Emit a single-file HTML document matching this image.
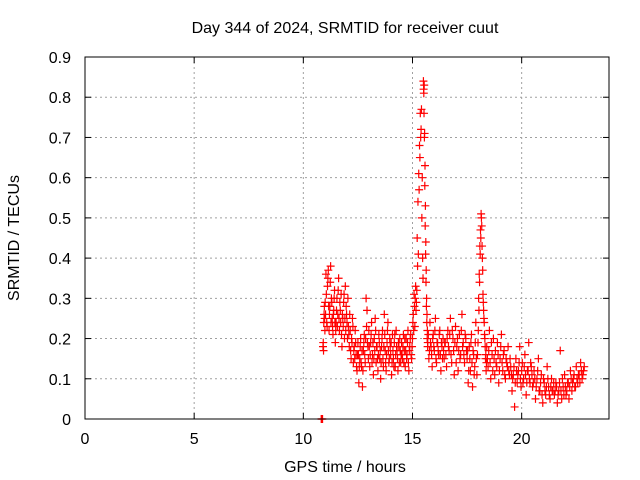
<!DOCTYPE html>
<html><head><meta charset="utf-8"><style>
body{margin:0;background:#fff;}
svg{display:block;font-family:"Liberation Sans",sans-serif;font-size:16px;}
</style></head><body>
<svg id="chart" width="640" height="480">
<text x="345" y="33" text-anchor="middle">Day 344 of 2024, SRMTID for receiver cuut</text>
<text x="345" y="472" text-anchor="middle">GPS time / hours</text>
<text transform="translate(19,238) rotate(-90)" text-anchor="middle">SRMTID / TECUs</text>
<g id="grid"></g>
<g id="ticks"></g>
<g id="marks"></g>
<rect x="85" y="57" width="524" height="362" fill="none" stroke="#000" stroke-width="1"/>
</svg>
<script>
const xTicks=[0,5,10,15,20];
const yTicks=[0,0.1,0.2,0.3,0.4,0.5,0.6,0.7,0.8,0.9];
const yTickLabels=["0","0.1","0.2","0.3","0.4","0.5","0.6","0.7","0.8","0.9"];
const zeroTimes=[10.82,10.85,10.88];
const zeroValues=[0,0,0];
const segStart=[10.9,11.0,11.5,12.0,12.5,13.0,13.5,14.0,14.5,15.0,15.5,15.7,16.5,17.5,18.0,18.4,19.5,20.5,21.5];
const segEnd=[11.0,11.5,12.0,12.5,13.0,13.5,14.0,14.5,15.0,15.5,15.7,16.5,17.5,18.0,18.4,19.5,20.5,21.5,22.9];
const segValues=[
[0.18,0.17,0.26,0.25],
[0.29,0.36,0.24,0.33,0.37,0.22,0.28,0.38,0.30,0.25,0.21,0.27,0.32,0.19],
[0.24,0.30,0.26,0.35,0.22,0.27,0.31,0.18,0.25,0.29,0.20,0.33,0.28],
[0.24,0.30,0.21,0.26,0.17,0.20,0.25,0.14,0.18,0.22,0.16,0.12],
[0.19,0.09,0.15,0.20,0.13,0.08,0.17,0.21,0.14,0.30,0.27,0.18],
[0.22,0.13,0.19,0.24,0.16,0.11,0.20,0.25,0.14,0.18,0.12,0.21],
[0.15,0.10,0.18,0.22,0.13,0.26,0.17,0.12,0.19,0.24,0.14,0.20],
[0.16,0.11,0.21,0.15,0.19,0.13,0.22,0.17,0.12,0.18,0.20,0.14],
[0.19,0.15,0.21,0.17,0.13,0.20,0.16,0.22,0.12,0.18,0.21,0.15],
[0.20,0.26,0.31,0.23,0.33,0.29,0.45,0.54,0.61,0.68,0.76,0.72,0.50,0.40],
[0.84,0.81,0.83,0.71,0.63,0.53,0.44,0.37,0.30,0.26,0.22],
[0.19,0.15,0.24,0.18,0.13,0.21,0.17,0.25,0.14,0.19,0.16,0.22,0.12,0.18,0.20,0.15],
[0.19,0.13,0.22,0.17,0.25,0.14,0.20,0.11,0.23,0.18,0.12,0.21,0.16,0.26,0.19,0.14,0.20],
[0.15,0.09,0.18,0.12,0.21,0.08,0.16,0.13,0.24,0.11],
[0.19,0.30,0.36,0.43,0.47,0.51,0.48,0.40,0.31,0.27,0.24,0.20,0.15,0.12],
[0.18,0.13,0.22,0.10,0.16,0.20,0.11,0.14,0.19,0.09,0.15,0.21,0.12,0.17,0.10,0.14,0.18,0.11],
[0.13,0.07,0.11,0.03,0.15,0.09,0.12,0.18,0.08,0.14,0.10,0.16,0.06,0.12,0.19,0.09,0.13],
[0.08,0.12,0.05,0.10,0.15,0.07,0.11,0.04,0.09,0.06,0.13,0.08,0.05,0.10,0.07],
[0.06,0.09,0.04,0.07,0.17,0.05,0.08,0.11,0.06,0.09,0.05,0.12,0.07,0.10,0.08,0.13,0.09,0.11,0.14,0.10,0.12]
];
const segValuesB=[
[0.19,0.24,0.28,0.22],
[0.26,0.31,0.23,0.35,0.28,0.26,0.34,0.24,0.29,0.23,0.26,0.30,0.24,0.22],
[0.27,0.23,0.32,0.25,0.29,0.24,0.21,0.26,0.23,0.31,0.25,0.22,0.26],
[0.20,0.23,0.18,0.22,0.15,0.19,0.23,0.17,0.15,0.19,0.13,0.16],
[0.16,0.13,0.18,0.14,0.17,0.12,0.19,0.16,0.20,0.23,0.19,0.15],
[0.18,0.16,0.21,0.14,0.19,0.15,0.17,0.22,0.18,0.15,0.16,0.19],
[0.17,0.14,0.20,0.15,0.18,0.21,0.14,0.16,0.22,0.17,0.15,0.18],
[0.19,0.14,0.17,0.13,0.21,0.16,0.18,0.15,0.19,0.14,0.17,0.16],
[0.16,0.18,0.14,0.20,0.17,0.15,0.19,0.14,0.17,0.20,0.16,0.18],
[0.24,0.22,0.28,0.30,0.27,0.32,0.38,0.41,0.57,0.65,0.70,0.77,0.60,0.35],
[0.82,0.76,0.70,0.58,0.48,0.41,0.34,0.28,0.24,0.20,0.18],
[0.21,0.17,0.19,0.16,0.20,0.18,0.22,0.15,0.19,0.17,0.21,0.16,0.19,0.15,0.17,0.19],
[0.16,0.20,0.18,0.21,0.16,0.22,0.17,0.19,0.14,0.20,0.17,0.15,0.22,0.18,0.16,0.21,0.17],
[0.17,0.12,0.15,0.19,0.14,0.17,0.11,0.19,0.15,0.16],
[0.22,0.27,0.34,0.41,0.45,0.50,0.43,0.37,0.29,0.25,0.21,0.18,0.16,0.14],
[0.15,0.17,0.14,0.19,0.12,0.15,0.17,0.13,0.16,0.12,0.18,0.14,0.16,0.11,0.15,0.13,0.12,0.15],
[0.11,0.10,0.13,0.09,0.12,0.11,0.14,0.10,0.12,0.09,0.13,0.11,0.09,0.12,0.10,0.14,0.11],
[0.09,0.10,0.08,0.12,0.07,0.09,0.06,0.10,0.07,0.08,0.10,0.06,0.08,0.07,0.09],
[0.07,0.08,0.06,0.09,0.07,0.10,0.06,0.08,0.07,0.09,0.08,0.10,0.09,0.11,0.08,0.10,0.11,0.09,0.12,0.11,0.13]
];
const X0=85,X1=609,Y0=419,Y1=57,XMAX=24,YMAX=0.9;
const xs=v=>X0+(X1-X0)*v/XMAX;
const ys=v=>Y0-(Y0-Y1)*v/YMAX;
const NS="http://www.w3.org/2000/svg";
const grid=document.getElementById('grid'),ticks=document.getElementById('ticks'),marks=document.getElementById('marks');
function mk(tag,a,p){const e=document.createElementNS(NS,tag);for(const k in a)e.setAttribute(k,a[k]);p.appendChild(e);return e;}
xTicks.forEach(t=>{
  const x=xs(t);
  if(t>0){const g=mk('line',{x1:x,x2:x,y1:Y1,y2:Y0,stroke:'#a0a0a0','stroke-dasharray':'2,3'},grid);
  
  }
  mk('line',{x1:x,x2:x,y1:Y0,y2:Y0-6,stroke:'#000'},ticks);
  mk('line',{x1:x,x2:x,y1:Y1,y2:Y1+6,stroke:'#000'},ticks);
  const l=mk('text',{x:x,y:Y0+25,'text-anchor':'middle'},ticks);l.textContent=t;
  
  
});
yTicks.forEach((t,i)=>{
  const y=ys(t);
  if(t>0){const g=mk('line',{x1:X0,x2:X1,y1:y,y2:y,stroke:'#a0a0a0','stroke-dasharray':'2,3'},grid);
  
  }
  mk('line',{x1:X0,x2:X0+6,y1:y,y2:y,stroke:'#000'},ticks);
  mk('line',{x1:X1,x2:X1-6,y1:y,y2:y,stroke:'#000'},ticks);
  const l=mk('text',{x:X0-14,y:y+6,'text-anchor':'end'},ticks);l.textContent=yTickLabels[i];
  
  
});
function plus(t,v){
  const x=xs(t),y=ys(v);
  const p=mk('path',{d:`M${x-4},${y}H${x+4}M${x},${y-4}V${y+4}`,stroke:'#f00','stroke-width':1.2,fill:'none'},marks);
  
  
}
zeroTimes.forEach((t,i)=>plus(t,zeroValues[i]));
segValues.forEach((vals,s)=>{
  const n=vals.length,st=(segEnd[s]-segStart[s])/n;
  vals.forEach((v,i)=>plus(segStart[s]+st*i,v));
});
segValuesB.forEach((vals,s)=>{
  const n=vals.length,st=(segEnd[s]-segStart[s])/n;
  vals.forEach((v,i)=>plus(segStart[s]+st*(i+0.5),v));
});
</script>
</body></html>
